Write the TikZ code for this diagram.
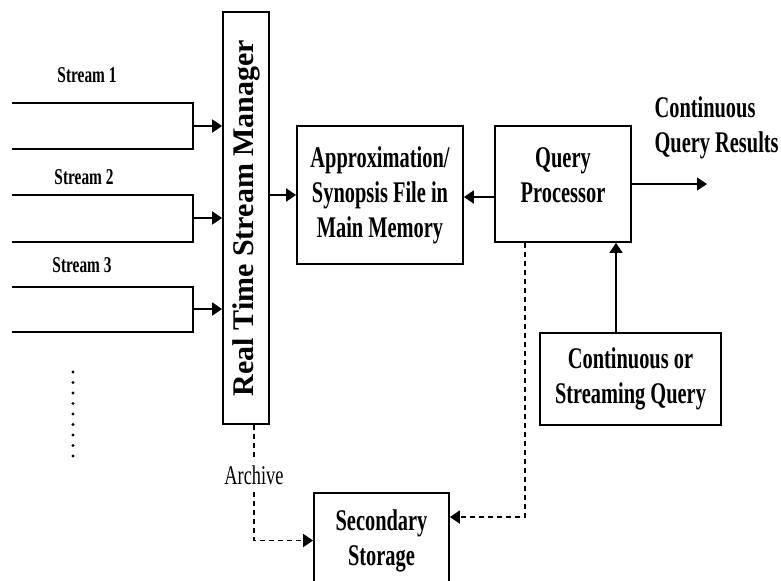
\documentclass[tikz,border=0pt]{standalone}
\usepackage{fontspec}
\setmainfont{Liberation Serif}[FakeStretch=0.68]
\newfontfamily\widefont{Liberation Serif}
\usetikzlibrary{arrows.meta}

\begin{document}
\begin{tikzpicture}[x=0.5pt,y=-0.5pt,>={Triangle[length=5pt,width=6.5pt]},line width=0.9pt,
        box/.style={draw,rectangle,align=center,inner sep=0pt,font=\bfseries\fontsize{15}{17.5}\selectfont},
        lbl/.style={align=center,font=\bfseries\fontsize{15}{17.5}\selectfont},
        strm/.style={font=\bfseries\fontsize{11.3}{13}\selectfont},
        dsh/.style={dash pattern=on 2.5pt off 2pt}]
        \useasboundingbox (0,0) rectangle (781,580);
        \clip (0,0) rectangle (781,580);
        \node[box,minimum width=23pt,minimum height=206pt](rtsm) at (246,218)
              {\rotatebox{90}{\widefont Real Time Stream Manager}};
        \node[box,minimum width=83pt,minimum height=69pt](approx) at (380,195)
              {Approximation/\\Synopsis File in\\Main Memory};
        \node[box,minimum width=68pt,minimum height=58pt](qp) at (563,184){};
        \node[lbl](qptxt) at (563,175){Query\\Processor};
        \node[box,minimum width=90.5pt,minimum height=46pt](csq) at (630.5,379)
              {Continuous or\\Streaming Query};
        \node[box,minimum width=67.5pt,minimum height=47.5pt](sec) at (381.5,540.5)
              {Secondary\\Storage};
        \node[lbl,anchor=west,align=left](res) at (647,127.5){Continuous\\Query Results};
        \node[font=\fontsize{13.5}{15}\selectfont](arch) at (254,475){Archive};
        \coordinate (out) at (707,184);
        % incoming streams
        \foreach \i/\t/\b/\m/\lx/\ly in {1/103/149/126/87/75,2/195/242/218/84/177,3/287/332/309/82/265}
          {\node[strm](lbl\i) at (\lx,\ly){Stream \i};
           \draw (12,\t) -- (193,\t) -- (193,\b) -- (12,\b);
           \coordinate (s\i) at (193,\m);
           \draw[->] (s\i) -- (s\i -| rtsm.west);}
        \foreach \k in {0,...,8}{\fill (73,{372+10.5*\k}) circle (0.8pt);}
        \draw[->] (approx.west -| rtsm.east) -- (approx.west);
        \draw[->] ([yshift=-6.5pt]qp.west) -- ([yshift=-6.5pt]qp.west -| approx.east);
        \draw[->] (qp.east) -- (out);
        \draw[->] ([xshift=-7.25pt]csq.north) -- ([xshift=-7.25pt]csq.north |- qp.south);
        \draw[dsh] ([xshift=4pt]rtsm.south) -- (arch);
        \draw[dsh,->] (arch) |- (sec.west);
        \draw[dsh,->] ([xshift=-19pt]qp.south) |- ([yshift=11.75pt]sec.east);
      \end{tikzpicture}
\end{document}
